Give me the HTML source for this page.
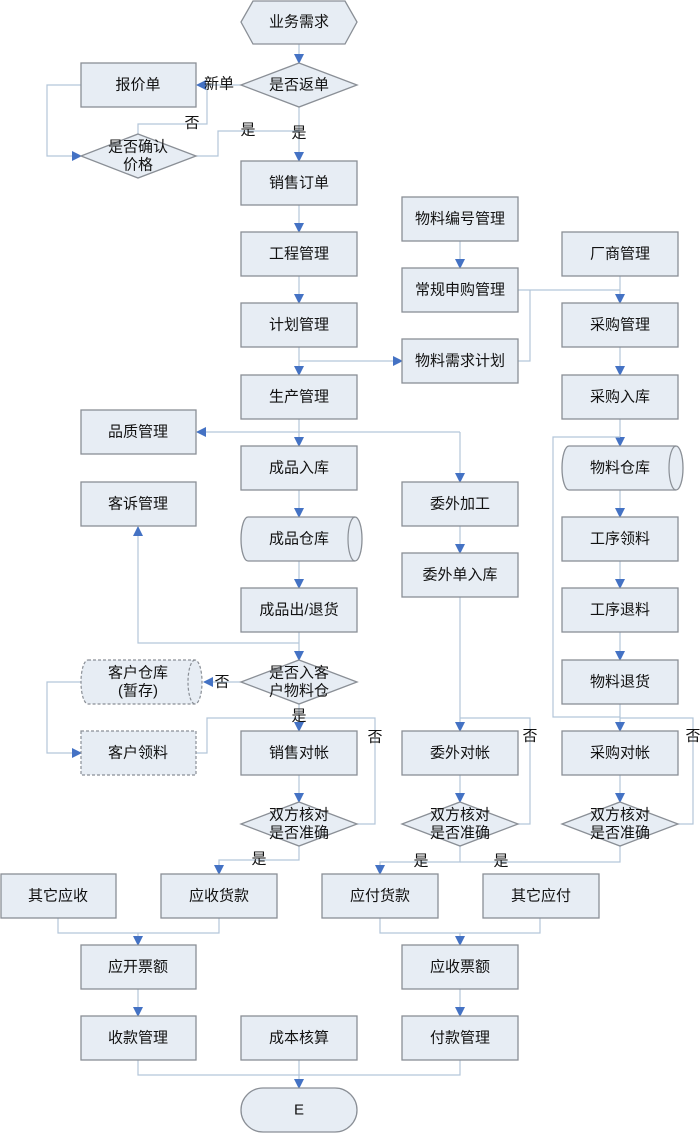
<!DOCTYPE html>
<html><head><meta charset="utf-8"><style>
html,body{margin:0;padding:0;background:#fff;}
svg{display:block}
text{font-family:"Liberation Sans","Noto Sans CJK SC",sans-serif;font-size:15px;fill:#111;text-anchor:middle;dominant-baseline:central}
.b{fill:#e7edf4;stroke:#8a8f96;stroke-width:1.3}
.d{fill:#e7edf4;stroke:#8a8f96;stroke-width:1.2;stroke-dasharray:3,2}
.l{fill:none;stroke:#b3c6d9;stroke-width:1.2}
</style></head><body>
<svg width="700" height="1133" viewBox="0 0 700 1133" xmlns="http://www.w3.org/2000/svg">
<defs><marker id="a" markerWidth="10" markerHeight="10" refX="9" refY="5" orient="auto" markerUnits="userSpaceOnUse"><path d="M0,0 L10,5 L0,10 z" fill="#4472c4"/></marker></defs>

<g class="l">
<path d="M299,44 V63" marker-end="url(#a)"/>
<path d="M241,85 H197" marker-end="url(#a)"/>
<path d="M299,107 V161" marker-end="url(#a)"/>
<path d="M81,85 H47 V156 H81" marker-end="url(#a)"/>
<path d="M138,134 V124 H207 V85"/>
<path d="M196,156 H218 V131 H299"/>
<path d="M299,205 V232" marker-end="url(#a)"/>
<path d="M299,276 V303" marker-end="url(#a)"/>
<path d="M299,347 V375" marker-end="url(#a)"/>
<path d="M299,361 H402" marker-end="url(#a)"/>
<path d="M460,241 V268" marker-end="url(#a)"/>
<path d="M518,290 H620"/>
<path d="M518,361 H530 V290"/>
<path d="M620,276 V303" marker-end="url(#a)"/>
<path d="M620,347 V375" marker-end="url(#a)"/>
<path d="M620,419 V446" marker-end="url(#a)"/>
<path d="M620,437 H553 V717 H620"/>
<path d="M620,490 V517" marker-end="url(#a)"/>
<path d="M620,561 V588" marker-end="url(#a)"/>
<path d="M620,632 V660" marker-end="url(#a)"/>
<path d="M620,704 V731" marker-end="url(#a)"/>
<path d="M299,419 V446" marker-end="url(#a)"/>
<path d="M460,432 H197" marker-end="url(#a)"/>
<path d="M460,432 V482" marker-end="url(#a)"/>
<path d="M460,526 V553" marker-end="url(#a)"/>
<path d="M460,597 V731" marker-end="url(#a)"/>
<path d="M299,490 V517" marker-end="url(#a)"/>
<path d="M299,561 V588" marker-end="url(#a)"/>
<path d="M299,632 V660" marker-end="url(#a)"/>
<path d="M299,643 H138 V527" marker-end="url(#a)"/>
<path d="M241,682 H204" marker-end="url(#a)"/>
<path d="M81,682 H47 V753 H81" marker-end="url(#a)"/>
<path d="M299,704 V731" marker-end="url(#a)"/>
<path d="M357,824 H375 V718 H207 V753 H196"/>
<path d="M518,824 H530 V718 H460"/>
<path d="M678,824 H693 V718 H620"/>
<path d="M299,775 V802" marker-end="url(#a)"/>
<path d="M460,775 V802" marker-end="url(#a)"/>
<path d="M620,775 V802" marker-end="url(#a)"/>
<path d="M299,846 V860 H219 V874" marker-end="url(#a)"/>
<path d="M460,846 V862 H380 V874" marker-end="url(#a)"/>
<path d="M620,846 V862 H460"/>
<path d="M58,918 V933 H219 V918"/>
<path d="M138,933 V945" marker-end="url(#a)"/>
<path d="M380,918 V933 H540 V918"/>
<path d="M460,933 V945" marker-end="url(#a)"/>
<path d="M138,989 V1016" marker-end="url(#a)"/>
<path d="M460,989 V1016" marker-end="url(#a)"/>
<path d="M138,1060 V1075 H460 V1060"/>
<path d="M299,1060 V1088" marker-end="url(#a)"/>
</g>

<polygon class="b" points="253,1 345,1 357,22 345,44 253,44 241,22"/>
<polygon class="b" points="299,63 357,85 299,107 241,85"/>
<polygon class="b" points="138,134 196,156 138,178 81,156"/>
<rect class="b" x="81" y="63" width="115" height="44"/>
<rect class="b" x="241" y="161" width="116" height="44"/>
<rect class="b" x="241" y="232" width="116" height="44"/>
<rect class="b" x="241" y="303" width="116" height="44"/>
<rect class="b" x="241" y="375" width="116" height="44"/>
<rect class="b" x="241" y="446" width="116" height="44"/>
<path class="b" d="M248,517 H355 A7,22 0 0 1 355,561 H248 A7,22 0 0 1 248,517 Z"/>
<path class="l" style="stroke:#8a8f96" d="M355,517 A7,22 0 0 0 355,561"/>
<rect class="b" x="241" y="588" width="116" height="44"/>
<polygon class="b" points="299,660 357,682 299,704 241,682"/>
<rect class="b" x="241" y="731" width="116" height="44"/>
<polygon class="b" points="299,802 357,824 299,846 241,824"/>

<rect class="b" x="81" y="410" width="115" height="44"/>
<rect class="b" x="81" y="482" width="115" height="44"/>
<path class="d" d="M88,660 H195 A7,22 0 0 1 195,704 H88 A7,22 0 0 1 88,660 Z"/>
<path class="d" style="fill:none" d="M195,660 A7,22 0 0 0 195,704"/>
<rect class="d" x="81" y="731" width="115" height="44"/>

<rect class="b" x="402" y="197" width="116" height="44"/>
<rect class="b" x="402" y="268" width="116" height="44"/>
<rect class="b" x="402" y="339" width="116" height="44"/>
<rect class="b" x="402" y="482" width="116" height="44"/>
<rect class="b" x="402" y="553" width="116" height="44"/>
<rect class="b" x="402" y="731" width="116" height="44"/>
<polygon class="b" points="460,802 518,824 460,846 402,824"/>

<rect class="b" x="562" y="232" width="116" height="44"/>
<rect class="b" x="562" y="303" width="116" height="44"/>
<rect class="b" x="562" y="375" width="116" height="44"/>
<path class="b" d="M569,446 H676 A7,22 0 0 1 676,490 H569 A7,22 0 0 1 569,446 Z"/>
<path class="l" style="stroke:#8a8f96" d="M676,446 A7,22 0 0 0 676,490"/>
<rect class="b" x="562" y="517" width="116" height="44"/>
<rect class="b" x="562" y="588" width="116" height="44"/>
<rect class="b" x="562" y="660" width="116" height="44"/>
<rect class="b" x="562" y="731" width="116" height="44"/>
<polygon class="b" points="620,802 678,824 620,846 562,824"/>

<rect class="b" x="1" y="874" width="115" height="44"/>
<rect class="b" x="161" y="874" width="116" height="44"/>
<rect class="b" x="322" y="874" width="116" height="44"/>
<rect class="b" x="483" y="874" width="116" height="44"/>
<rect class="b" x="81" y="945" width="115" height="44"/>
<rect class="b" x="402" y="945" width="116" height="44"/>
<rect class="b" x="81" y="1016" width="115" height="44"/>
<rect class="b" x="241" y="1016" width="116" height="44"/>
<rect class="b" x="402" y="1016" width="116" height="44"/>
<rect class="b" x="241" y="1088" width="116" height="44" rx="22"/>

<text x="299" y="22">业务需求</text>
<text x="299" y="85">是否返单</text>
<text x="138" y="85">报价单</text>
<text x="138" y="147">是否确认</text>
<text x="138" y="165">价格</text>
<text x="219" y="84">新单</text>
<text x="192" y="123">否</text>
<text x="248" y="130">是</text>
<text x="299" y="133">是</text>
<text x="299" y="183">销售订单</text>
<text x="299" y="254">工程管理</text>
<text x="299" y="325">计划管理</text>
<text x="299" y="397">生产管理</text>
<text x="299" y="468">成品入库</text>
<text x="299" y="539">成品仓库</text>
<text x="299" y="610">成品出/退货</text>
<text x="299" y="673">是否入客</text>
<text x="299" y="691">户物料仓</text>
<text x="222" y="682">否</text>
<text x="299" y="716">是</text>
<text x="299" y="753">销售对帐</text>
<text x="299" y="815">双方核对</text>
<text x="299" y="833">是否准确</text>
<text x="375" y="737">否</text>
<text x="259" y="859">是</text>
<text x="138" y="432">品质管理</text>
<text x="138" y="504">客诉管理</text>
<text x="138" y="673">客户仓库</text>
<text x="138" y="691">(暂存)</text>
<text x="138" y="753">客户领料</text>
<text x="460" y="219">物料编号管理</text>
<text x="460" y="290">常规申购管理</text>
<text x="460" y="361">物料需求计划</text>
<text x="460" y="504">委外加工</text>
<text x="460" y="575">委外单入库</text>
<text x="460" y="753">委外对帐</text>
<text x="460" y="815">双方核对</text>
<text x="460" y="833">是否准确</text>
<text x="530" y="736">否</text>
<text x="421" y="861">是</text>
<text x="501" y="861">是</text>
<text x="620" y="254">厂商管理</text>
<text x="620" y="325">采购管理</text>
<text x="620" y="397">采购入库</text>
<text x="620" y="468">物料仓库</text>
<text x="620" y="539">工序领料</text>
<text x="620" y="610">工序退料</text>
<text x="620" y="682">物料退货</text>
<text x="620" y="753">采购对帐</text>
<text x="620" y="815">双方核对</text>
<text x="620" y="833">是否准确</text>
<text x="693" y="736">否</text>
<text x="58" y="896">其它应收</text>
<text x="219" y="896">应收货款</text>
<text x="380" y="896">应付货款</text>
<text x="541" y="896">其它应付</text>
<text x="138" y="967">应开票额</text>
<text x="460" y="967">应收票额</text>
<text x="138" y="1038">收款管理</text>
<text x="299" y="1038">成本核算</text>
<text x="460" y="1038">付款管理</text>
<text x="299" y="1110">E</text>
</svg>
</body></html>
